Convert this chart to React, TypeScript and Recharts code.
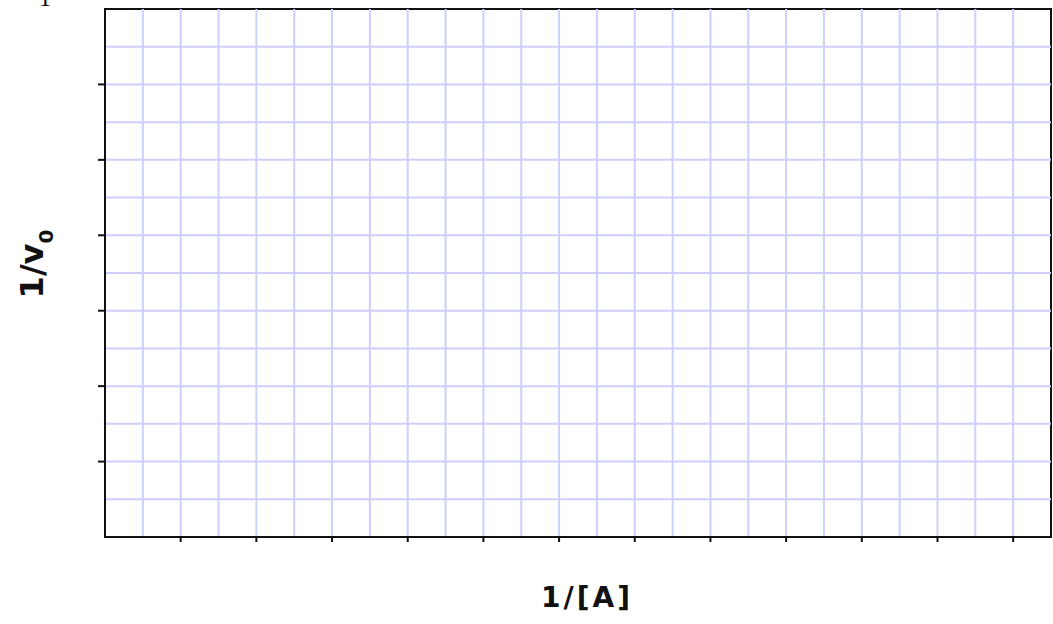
import React from 'react';
import { ComposedChart, XAxis, YAxis, ReferenceLine, ReferenceArea, Label, Scatter } from 'recharts';

const xDomain: [number, number] = [0, 25];
const yDomain: [number, number] = [0, 14];
const xTicks = [2, 4, 6, 8, 10, 12, 14, 16, 18, 20, 22, 24];
const yTicks = [2, 4, 6, 8, 10, 12];
const xGridLines = [1, 2, 3, 4, 5, 6, 7, 8, 9, 10, 11, 12, 13, 14, 15, 16, 17, 18, 19, 20, 21, 22, 23, 24];
const yGridLines = [1, 2, 3, 4, 5, 6, 7, 8, 9, 10, 11, 12, 13];
const points: { x: number; y: number }[] = [];

const xLabel = '1/[A]';
const yLabelMain = '1/v';
const yLabelSub = '0';
const cornerText = '1';

const GRID = '#cfcfff';
const INK = '#111111';
const LABEL_FONT = '"DejaVu Sans", sans-serif';

const XLabelContent = (props: any) => {
  const vb = props.viewBox || { x: 105, y: 537, width: 946, height: 87 };
  return (
    <text
      x={vb.x + vb.width / 2 + 9}
      y={vb.y + 70}
      textAnchor="middle"
      fontFamily={LABEL_FONT}
      fontWeight="bold"
      fontSize={28}
      letterSpacing={3}
      fill={INK}
    >
      {xLabel}
    </text>
  );
};

const YLabelContent = (props: any) => {
  const vb = props.viewBox || { x: 0, y: 9, width: 105, height: 528 };
  const cx = vb.x + 43;
  const cy = vb.y + vb.height / 2 - 9;
  return (
    <g>
      <text
        x={cx}
        y={cy}
        transform={`rotate(-90, ${cx}, ${cy})`}
        textAnchor="middle"
        fontFamily={LABEL_FONT}
        fontWeight="bold"
        fontSize={32}
        fill={INK}
      >
        {yLabelMain}
        <tspan fontSize={20} dy={10}>{yLabelSub}</tspan>
      </text>
      <text
        x={vb.x + 45}
        y={vb.y - 3}
        textAnchor="middle"
        fontFamily='"Liberation Serif", serif'
        fontSize={24}
        fill="#000"
      >
        {cornerText}
      </text>
    </g>
  );
};

export default function App() {
  return (
    <div style={{ position: 'absolute', left: 0, top: 0, width: 1053, height: 624, background: '#fff' }}>
      <ComposedChart
        width={1053}
        height={624}
        margin={{ top: 9, right: 2, bottom: 0, left: 0 }}
        style={{ overflow: 'visible' }}
      >
        {xGridLines.map((v) => (
          <ReferenceLine key={`gx${v}`} x={v} stroke={GRID} strokeWidth={2} />
        ))}
        {yGridLines.map((v) => (
          <ReferenceLine key={`gy${v}`} y={v} stroke={GRID} strokeWidth={2} />
        ))}
        <ReferenceArea
          x1={xDomain[0]}
          x2={xDomain[1]}
          y1={yDomain[0]}
          y2={yDomain[1]}
          fill="none"
          fillOpacity={0}
          stroke={INK}
          strokeWidth={2}
        />
        <XAxis
          type="number"
          dataKey="x"
          domain={xDomain}
          ticks={xTicks}
          tickFormatter={() => ''}
          height={87}
          tickSize={5}
          axisLine={{ stroke: INK, strokeWidth: 2 }}
          tickLine={{ stroke: INK, strokeWidth: 2 }}
          allowDataOverflow
        >
          <Label content={XLabelContent} />
        </XAxis>
        <YAxis
          type="number"
          dataKey="y"
          domain={yDomain}
          ticks={yTicks}
          tickFormatter={() => ''}
          width={105}
          tickSize={7}
          axisLine={{ stroke: INK, strokeWidth: 2 }}
          tickLine={{ stroke: INK, strokeWidth: 2 }}
          allowDataOverflow
        >
          <Label content={YLabelContent} />
        </YAxis>
        <Scatter data={points} isAnimationActive={false} fill={INK} />
      </ComposedChart>
    </div>
  );
}
